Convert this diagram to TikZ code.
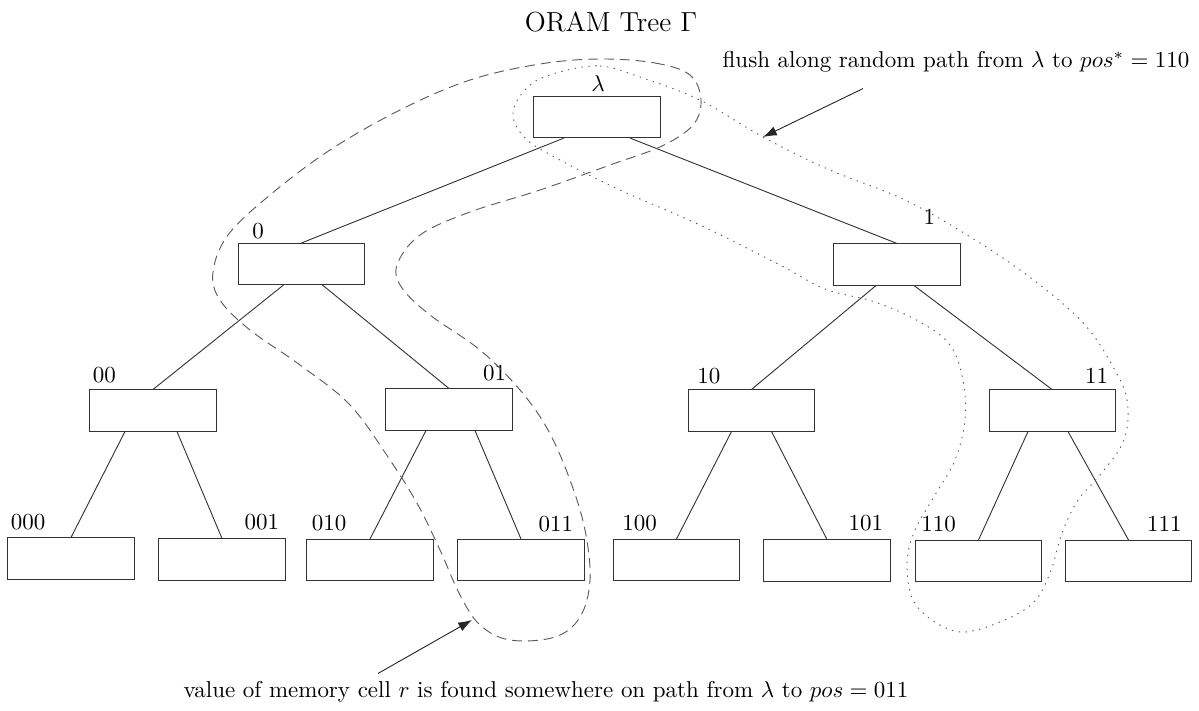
\documentclass[tikz,border=0pt]{standalone}
\usepackage{amsmath,amssymb}
\usepackage{xcolor}
\usepackage{tikz}
\usetikzlibrary{arrows.meta,positioning,calc}
\definecolor{pathc}{RGB}{90,90,90}

\begin{document}
\begin{tikzpicture}[x=0.0153cm,y=-0.0153cm,>={Latex[length=6pt,width=4.2pt]},
  bucket/.style={draw=black!80,minimum width=1.93cm,minimum height=0.63cm,inner sep=0pt},
  lbl/.style={inner sep=0pt}]
\useasboundingbox (0,0) rectangle (1199,710);
\node (title) at (611,22) {\large ORAM Tree $\Gamma$};
% tree buckets
\node[bucket] (root) at (597,117) {};
\node[bucket] (n0) at (301.5,264) {};
\node[bucket] (n1) at (897,264.5) {};
\node[bucket] (n00) at (153,410.5) {};
\node[bucket] (n01) at (449,409.5) {};
\node[bucket] (n10) at (751.5,410.5) {};
\node[bucket] (n11) at (1052,410.5) {};
\foreach \n/\x/\y in {000/71/558.5, 001/222/559.5, 010/370/560, 011/521/560, 100/676.5/560, 101/827/560.5, 110/978.5/561, 111/1128.5/561}
  \node[bucket] (n\n) at (\x,\y) {};
% edges
\foreach \p/\c/\d in {root/n0/-33, root/n1/33, n0/n00/-18, n0/n01/21, n1/n10/-21, n1/n11/17, n00/n000/-28, n00/n001/24, n01/n010/-23, n01/n011/26, n10/n100/-20, n10/n101/20, n11/n110/-24, n11/n111/16}
  \draw[black!80] ($(\p.south)+(\d,0)$) -- (\c.north);
% labels
\node[lbl,anchor=south] at ($(root.north)+(1,-4)$) {$\lambda$};
\node[lbl,anchor=south west] at ($(n0.north west)+(14,-4)$) {0};
\node[lbl,anchor=south east] at ($(n1.north east)+(-25,-19)$) {1};
\foreach \n/\d/\e in {00/3/-6, 10/9/-5, 000/3/-7, 010/5/-8, 100/9/-8, 110/6/-8}
  \node[lbl,anchor=south west] at ($(n\n.north west)+(\d,\e)$) {\n};
\foreach \n/\d/\e in {01/-6/-7, 11/-7/-6, 001/-6/-8, 011/-11/-7, 101/-7/-8, 111/-10/-8}
  \node[lbl,anchor=south east] at ($(n\n.north east)+(\d,\e)$) {\n};
% path to pos = 011
\draw[pathc,dash pattern=on 4.3pt off 2.6pt] plot[smooth cycle,tension=0.6] coordinates {
  (600,59) (655,63) (690,75) (701,100) (693,125) (662,146) (610,165) (540,190) (470,212)
  (420,235) (397,265) (402,288) (430,315) (480,350) (520,390) (548,430) (570,480) (585,530)
  (590,580) (580,617) (555,637) (510,640) (480,625) (460,595) (440,550) (418,505) (390,460)
  (350,405) (300,365) (250,330) (220,300) (213,272) (228,235) (270,195) (330,150) (400,110)
  (470,80) (540,64)};
% flushed path to pos* = 110
\draw[pathc,dash pattern=on 0.6pt off 2.4pt] plot[smooth cycle,tension=0.6] coordinates {
  (560,72) (600,66) (640,77) (700,100) (763,137) (830,170) (905,200) (980,243) (1040,285)
  (1085,325) (1112,365) (1127,400) (1124,440) (1100,475) (1078,500) (1062,533) (1050,573)
  (1033,603) (1000,622) (963,632) (935,622) (913,600) (907,563) (915,530) (935,495)
  (955,460) (965,420) (963,380) (950,345) (920,322) (875,302) (825,289) (780,265)
  (700,225) (620,190) (560,160) (525,138) (513,112) (530,85)};
% annotations
\node (flush) at (956,62) {flush along random path from $\lambda$ to $pos^*=110$};
\coordinate (flushtip) at (763,137);
\draw[->,black!85] ($(flush.south)+(-93,8)$) -- (flushtip);
\node (found) at (546,692) {value of memory cell $r$ is found somewhere on path from $\lambda$ to $pos=011$};
\coordinate (foundtip) at (472,620);
\draw[->,black!85] ($(found.north)+(-168,0)$) -- (foundtip);
\end{tikzpicture}
\end{document}
